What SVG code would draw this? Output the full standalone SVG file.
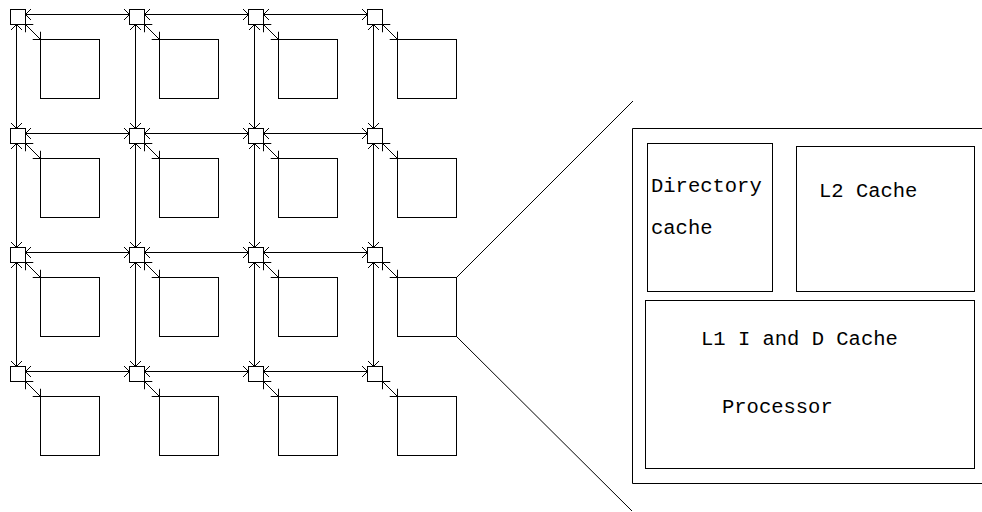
<svg xmlns="http://www.w3.org/2000/svg" width="982" height="512" viewBox="0 0 982 512">
<defs>
<marker id="arr" markerUnits="userSpaceOnUse" viewBox="-10 -10 20 20" refX="0" refY="0" markerWidth="20" markerHeight="20" orient="auto-start-reverse" overflow="visible">
<path d="M -5.5 -5.5 L 0 0 L -5.5 5.5" fill="none" stroke="#000" stroke-width="1"/>
</marker>
<style>
.box{fill:none;stroke:#000;stroke-width:1}
.ln{fill:none;stroke:#000;stroke-width:1;marker-start:url(#arr);marker-end:url(#arr)}
.pl{fill:none;stroke:#000;stroke-width:1}
.t{font-family:"Liberation Mono","Courier New",monospace;font-size:20.5px;fill:#000}
</style>
</defs>
<rect width="982" height="512" fill="#fff"/>
<g id="connectors">
<!-- horizontal links -->
<line class="ln" x1="25.5" y1="14.5" x2="129.5" y2="14.5"/>
<line class="ln" x1="144.5" y1="14.5" x2="248.5" y2="14.5"/>
<line class="ln" x1="263.5" y1="14.5" x2="367.5" y2="14.5"/>
<line class="ln" x1="25.5" y1="133.5" x2="129.5" y2="133.5"/>
<line class="ln" x1="144.5" y1="133.5" x2="248.5" y2="133.5"/>
<line class="ln" x1="263.5" y1="133.5" x2="367.5" y2="133.5"/>
<line class="ln" x1="25.5" y1="252.5" x2="129.5" y2="252.5"/>
<line class="ln" x1="144.5" y1="252.5" x2="248.5" y2="252.5"/>
<line class="ln" x1="263.5" y1="252.5" x2="367.5" y2="252.5"/>
<line class="ln" x1="25.5" y1="371.5" x2="129.5" y2="371.5"/>
<line class="ln" x1="144.5" y1="371.5" x2="248.5" y2="371.5"/>
<line class="ln" x1="263.5" y1="371.5" x2="367.5" y2="371.5"/>
<!-- vertical links -->
<line class="ln" x1="16.5" y1="24.5" x2="16.5" y2="128.5"/>
<line class="ln" x1="16.5" y1="143.5" x2="16.5" y2="247.5"/>
<line class="ln" x1="16.5" y1="262.5" x2="16.5" y2="366.5"/>
<line class="ln" x1="135.5" y1="24.5" x2="135.5" y2="128.5"/>
<line class="ln" x1="135.5" y1="143.5" x2="135.5" y2="247.5"/>
<line class="ln" x1="135.5" y1="262.5" x2="135.5" y2="366.5"/>
<line class="ln" x1="254.5" y1="24.5" x2="254.5" y2="128.5"/>
<line class="ln" x1="254.5" y1="143.5" x2="254.5" y2="247.5"/>
<line class="ln" x1="254.5" y1="262.5" x2="254.5" y2="366.5"/>
<line class="ln" x1="373.5" y1="24.5" x2="373.5" y2="128.5"/>
<line class="ln" x1="373.5" y1="143.5" x2="373.5" y2="247.5"/>
<line class="ln" x1="373.5" y1="262.5" x2="373.5" y2="366.5"/>
<!-- router to processor -->
<line class="ln" x1="25.5" y1="24.5" x2="40.5" y2="39.5"/>
<line class="ln" x1="144.5" y1="24.5" x2="159.5" y2="39.5"/>
<line class="ln" x1="263.5" y1="24.5" x2="278.5" y2="39.5"/>
<line class="ln" x1="382.5" y1="24.5" x2="397.5" y2="39.5"/>
<line class="ln" x1="25.5" y1="143.5" x2="40.5" y2="158.5"/>
<line class="ln" x1="144.5" y1="143.5" x2="159.5" y2="158.5"/>
<line class="ln" x1="263.5" y1="143.5" x2="278.5" y2="158.5"/>
<line class="ln" x1="382.5" y1="143.5" x2="397.5" y2="158.5"/>
<line class="ln" x1="25.5" y1="262.5" x2="40.5" y2="277.5"/>
<line class="ln" x1="144.5" y1="262.5" x2="159.5" y2="277.5"/>
<line class="ln" x1="263.5" y1="262.5" x2="278.5" y2="277.5"/>
<line class="ln" x1="382.5" y1="262.5" x2="397.5" y2="277.5"/>
<line class="ln" x1="25.5" y1="381.5" x2="40.5" y2="396.5"/>
<line class="ln" x1="144.5" y1="381.5" x2="159.5" y2="396.5"/>
<line class="ln" x1="263.5" y1="381.5" x2="278.5" y2="396.5"/>
<line class="ln" x1="382.5" y1="381.5" x2="397.5" y2="396.5"/>
<!-- zoom lines -->
<line class="pl" x1="456.5" y1="277.5" x2="633" y2="101"/>
<line class="pl" x1="456.5" y1="336.5" x2="632" y2="511"/>
</g>
<g id="routers">
<rect id="r00" class="box" x="10.5" y="9.5" width="15" height="15"/>
<rect id="r01" class="box" x="129.5" y="9.5" width="15" height="15"/>
<rect id="r02" class="box" x="248.5" y="9.5" width="15" height="15"/>
<rect id="r03" class="box" x="367.5" y="9.5" width="15" height="15"/>
<rect id="r10" class="box" x="10.5" y="128.5" width="15" height="15"/>
<rect id="r11" class="box" x="129.5" y="128.5" width="15" height="15"/>
<rect id="r12" class="box" x="248.5" y="128.5" width="15" height="15"/>
<rect id="r13" class="box" x="367.5" y="128.5" width="15" height="15"/>
<rect id="r20" class="box" x="10.5" y="247.5" width="15" height="15"/>
<rect id="r21" class="box" x="129.5" y="247.5" width="15" height="15"/>
<rect id="r22" class="box" x="248.5" y="247.5" width="15" height="15"/>
<rect id="r23" class="box" x="367.5" y="247.5" width="15" height="15"/>
<rect id="r30" class="box" x="10.5" y="366.5" width="15" height="15"/>
<rect id="r31" class="box" x="129.5" y="366.5" width="15" height="15"/>
<rect id="r32" class="box" x="248.5" y="366.5" width="15" height="15"/>
<rect id="r33" class="box" x="367.5" y="366.5" width="15" height="15"/>
</g>
<g id="processors">
<rect id="p00" class="box" x="40.5" y="39.5" width="59" height="59"/>
<rect id="p01" class="box" x="159.5" y="39.5" width="59" height="59"/>
<rect id="p02" class="box" x="278.5" y="39.5" width="59" height="59"/>
<rect id="p03" class="box" x="397.5" y="39.5" width="59" height="59"/>
<rect id="p10" class="box" x="40.5" y="158.5" width="59" height="59"/>
<rect id="p11" class="box" x="159.5" y="158.5" width="59" height="59"/>
<rect id="p12" class="box" x="278.5" y="158.5" width="59" height="59"/>
<rect id="p13" class="box" x="397.5" y="158.5" width="59" height="59"/>
<rect id="p20" class="box" x="40.5" y="277.5" width="59" height="59"/>
<rect id="p21" class="box" x="159.5" y="277.5" width="59" height="59"/>
<rect id="p22" class="box" x="278.5" y="277.5" width="59" height="59"/>
<rect id="p23" class="box" x="397.5" y="277.5" width="59" height="59"/>
<rect id="p30" class="box" x="40.5" y="396.5" width="59" height="59"/>
<rect id="p31" class="box" x="159.5" y="396.5" width="59" height="59"/>
<rect id="p32" class="box" x="278.5" y="396.5" width="59" height="59"/>
<rect id="p33" class="box" x="397.5" y="396.5" width="59" height="59"/>
</g>
<g id="tile-detail">
<path id="tile-outline" class="pl" d="M 982 128.5 H 632.5 V 483.5 H 982"/>
<g id="directory-cache">
<rect class="box" x="647.5" y="143.5" width="125" height="148"/>
<text class="t" x="651" y="192">Directory</text>
<text class="t" x="651" y="234">cache</text>
</g>
<g id="l2-cache">
<rect class="box" x="796.5" y="146.5" width="178" height="145"/>
<text class="t" x="819" y="197">L2 Cache</text>
</g>
<g id="l1-processor">
<rect class="box" x="645.5" y="300.5" width="329" height="168"/>
<text class="t" x="701" y="345">L1 I and D Cache</text>
<text class="t" x="722" y="413">Processor</text>
</g>
</g>
</svg>
